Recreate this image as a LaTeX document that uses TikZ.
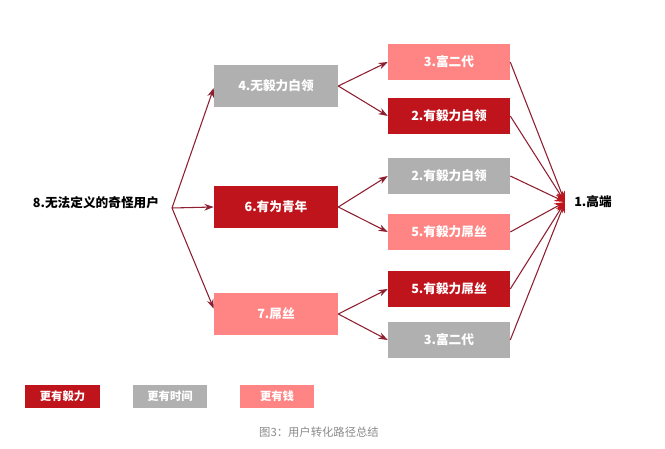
\documentclass[tikz,border=0pt]{standalone}
\usepackage{fontspec}
\setmainfont{Noto Sans CJK SC}
\usetikzlibrary{arrows.meta}
\definecolor{dred}{HTML}{C0141C}
\definecolor{lgray}{HTML}{B0B0B0}
\definecolor{pink}{HTML}{FF8585}
\definecolor{wire}{HTML}{8E1F30}
\definecolor{capgray}{HTML}{8A8A8A}
\tikzset{
  box/.style={inner sep=0pt, text=white, font=\bfseries\fontsize{9.5}{11}\selectfont},
  midbox/.style={box, minimum width=93pt, minimum height=31.5pt},
  rbox/.style={box, minimum width=91.5pt, minimum height=27pt},
  legbox/.style={box, minimum width=56pt, minimum height=17pt, font=\bfseries\fontsize{8.5}{10}\selectfont},
  wirearrow/.style={draw=wire, line width=0.8pt, -{Stealth[length=7pt,width=5pt]}},
  toend/.style={draw=wire, line width=0.8pt, -{Stealth[length=8pt,width=6pt,color=dred]}},
  label/.style={inner sep=0pt, text=black, font=\bfseries\fontsize{9.5}{11}\selectfont}
}
\begin{document}
\begin{tikzpicture}[x=0.75pt,y=-0.75pt]
\fill[white] (0,0) rectangle (665,449);
\useasboundingbox (0,0) rectangle (665,449);
% left label
\node[label] (u8) at (96,203) {8.无法定义的奇怪用户};
\coordinate (split) at (172,208);
% middle column
\node[midbox, fill=lgray] (m4) at (276,86) {4.无毅力白领};
\node[midbox, fill=dred] (m6) at (276,207) {6.有为青年};
\node[midbox, fill=pink] (m7) at (276,314) {7.屌丝};
% right column
\node[rbox, fill=pink] (r3a) at (449,62) {3.富二代};
\node[rbox, fill=dred] (r2a) at (449,116) {2.有毅力白领};
\node[rbox, fill=lgray] (r2b) at (449,176) {2.有毅力白领};
\node[rbox, fill=pink] (r5a) at (449,232) {5.有毅力屌丝};
\node[rbox, fill=dred] (r5b) at (449,289) {5.有毅力屌丝};
\node[rbox, fill=lgray] (r3b) at (449,340) {3.富二代};
% goal
\coordinate (top) at (565,202);
\node[label, anchor=west] (g1) at (574,202) {1.高端};
% connectors
\draw[wirearrow] (split) -- ([yshift=-1.5pt]m4.west);
\draw[wirearrow] (split) -- (m6.west);
\draw[wirearrow] (split) -- ([yshift=4pt]m7.west);
\draw[wirearrow] (m4.east) -- (r3a.west);
\draw[wirearrow] (m4.east) -- (r2a.west);
\draw[wirearrow] (m6.east) -- (r2b.west);
\draw[wirearrow] (m6.east) -- (r5a.west);
\draw[wirearrow] (m7.east) -- (r5b.west);
\draw[wirearrow] (m7.east) -- (r3b.west);
\foreach \n in {r3a,r2a,r2b,r5a,r5b,r3b}
  \draw[toend] (\n.east) -- (top);
% legend
\node[legbox, fill=dred] (l1) at (62.5,396.5) {更有毅力};
\node[legbox, fill=lgray] (l2) at (170,396.5) {更有时间};
\node[legbox, fill=pink] (l3) at (277,396.5) {更有钱};
\node[inner sep=0pt, text=capgray, font=\fontsize{8.5}{10}\selectfont] (cap) at (319,432) {图3：用户转化路径总结};
\end{tikzpicture}
\end{document}
